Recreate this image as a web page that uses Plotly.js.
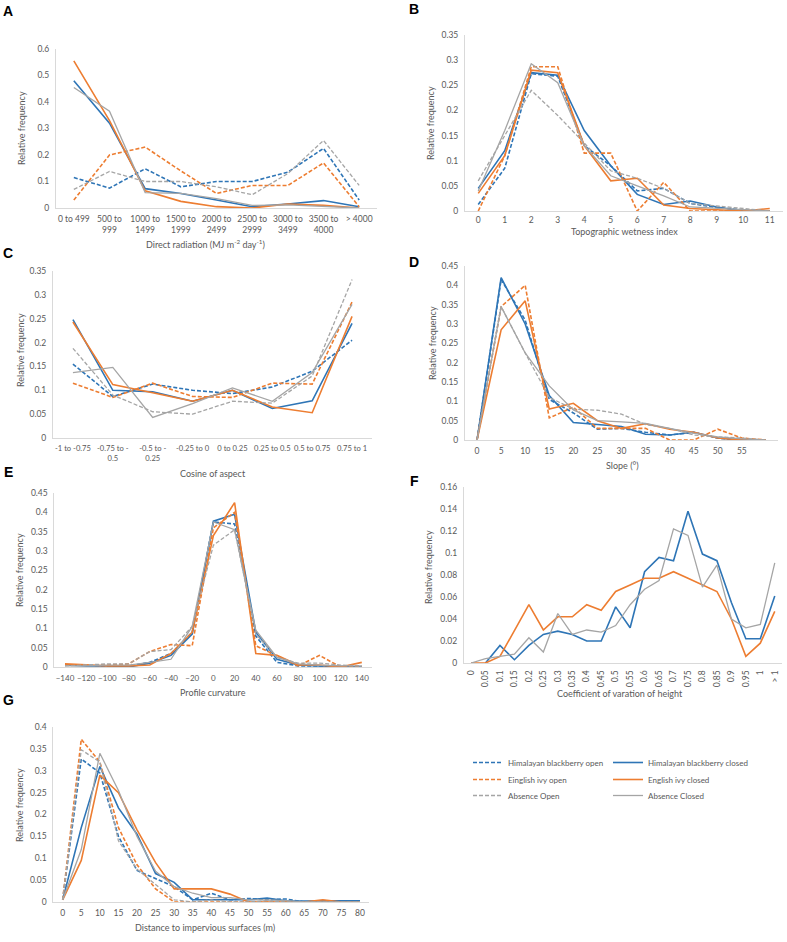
<!DOCTYPE html>
<html>
<head>
<meta charset="utf-8">
<script src="https://cdn.plot.ly/plotly-3.0.1.min.js"></script>
<style>html,body{margin:0;padding:0;background:#fff;}#chart{width:787px;height:942px;}</style>
</head>
<body>
<div id="chart"></div>
<script>
// ---------- Series names ----------
var seriesNames = ["Himalayan blackberry open", "Himalayan blackberry closed",
                   "Einglish ivy open", "English ivy closed",
                   "Absence Open", "Absence Closed"];

// ---------- A: Direct radiation ----------
var radCats = ["0 to 499", "500 to<br>999", "1000 to<br>1499", "1500 to<br>1999", "2000 to<br>2499",
               "2500 to<br>2999", "3000 to<br>3499", "3500 to<br>4000", "> 4000"];
var radHBopen    = [0.115, 0.075, 0.148, 0.080, 0.100, 0.100, 0.135, 0.225, 0.030];
var radHBclosed  = [0.480, 0.320, 0.073, 0.055, 0.030, 0.005, 0.015, 0.028, 0.005];
var radIvyOpen   = [0.030, 0.200, 0.230, 0.140, 0.055, 0.085, 0.085, 0.170, 0.005];
var radIvyClosed = [0.555, 0.330, 0.065, 0.025, 0.005, 0.000, 0.015, 0.010, 0.000];
var radAbsOpen   = [0.070, 0.138, 0.100, 0.100, 0.080, 0.050, 0.130, 0.255, 0.085];
var radAbsClosed = [0.455, 0.365, 0.058, 0.055, 0.035, 0.010, 0.012, 0.005, 0.000];

// ---------- B: Topographic wetness index ----------
var twiX = [0, 1, 2, 3, 4, 5, 6, 7, 8, 9, 10, 11];
var twiHBopen    = [0.013, 0.085, 0.273, 0.268, 0.130, 0.090, 0.040, 0.045, 0.015, 0.007, 0.002, 0.000];
var twiHBclosed  = [0.045, 0.120, 0.275, 0.270, 0.160, 0.090, 0.033, 0.013, 0.020, 0.008, 0.000, 0.000];
var twiIvyOpen   = [0.000, 0.110, 0.287, 0.287, 0.115, 0.115, 0.000, 0.057, 0.000, 0.000, 0.000, 0.000];
var twiIvyClosed = [0.035, 0.110, 0.280, 0.275, 0.130, 0.060, 0.065, 0.012, 0.005, 0.003, 0.000, 0.005];
var twiAbsOpen   = [0.060, 0.150, 0.240, 0.190, 0.135, 0.080, 0.065, 0.045, 0.015, 0.010, 0.005, 0.000];
var twiAbsClosed = [0.040, 0.160, 0.293, 0.255, 0.130, 0.070, 0.050, 0.030, 0.008, 0.005, 0.003, 0.000];

// ---------- C: Cosine of aspect ----------
var aspCats = ["-1 to -0.75", "-0.75 to -<br>0.5", "-0.5 to -<br>0.25", "-0.25 to 0",
               "0 to 0.25", "0.25 to 0.5", "0.5 to 0.75", "0.75 to 1"];
var aspHBopen    = [0.155, 0.087, 0.113, 0.100, 0.093, 0.107, 0.140, 0.205];
var aspHBclosed  = [0.248, 0.100, 0.097, 0.077, 0.100, 0.062, 0.078, 0.240];
var aspIvyOpen   = [0.115, 0.085, 0.115, 0.087, 0.085, 0.115, 0.113, 0.285];
var aspIvyClosed = [0.243, 0.112, 0.095, 0.077, 0.100, 0.065, 0.053, 0.255];
var aspAbsOpen   = [0.188, 0.090, 0.055, 0.050, 0.077, 0.073, 0.130, 0.332];
var aspAbsClosed = [0.137, 0.148, 0.043, 0.072, 0.105, 0.077, 0.137, 0.280];

// ---------- D: Slope ----------
var slopeX = [0, 5, 10, 15, 20, 25, 30, 35, 40, 45, 50, 55, 60];
var slopeTicks = [0, 5, 10, 15, 20, 25, 30, 35, 40, 45, 50, 55];
var slopeHBopen    = [0, 0.415, 0.310, 0.105, 0.070, 0.028, 0.030, 0.020, 0.013, 0.020, 0.005, 0.000, 0];
var slopeHBclosed  = [0, 0.420, 0.300, 0.115, 0.045, 0.040, 0.035, 0.015, 0.013, 0.020, 0.005, 0.000, 0];
var slopeIvyOpen   = [0, 0.345, 0.400, 0.057, 0.085, 0.030, 0.030, 0.030, 0.000, 0.000, 0.028, 0.005, 0];
var slopeIvyClosed = [0, 0.285, 0.360, 0.080, 0.095, 0.050, 0.030, 0.042, 0.028, 0.020, 0.005, 0.000, 0];
var slopeAbsOpen   = [0, 0.345, 0.225, 0.110, 0.080, 0.077, 0.067, 0.040, 0.030, 0.013, 0.008, 0.005, 0];
var slopeAbsClosed = [0, 0.345, 0.225, 0.140, 0.078, 0.050, 0.047, 0.043, 0.030, 0.018, 0.008, 0.003, 0];

// ---------- E: Profile curvature ----------
var curvX = [-140, -120, -100, -80, -60, -40, -20, 0, 20, 40, 60, 80, 100, 120, 140];
var curvHBopen    = [0.005, 0.005, 0.003, 0.003, 0.012, 0.035, 0.090, 0.375, 0.370, 0.080, 0.012, 0.003, 0.003, 0.000, 0.000];
var curvHBclosed  = [0.005, 0.003, 0.003, 0.000, 0.010, 0.030, 0.085, 0.377, 0.395, 0.090, 0.020, 0.005, 0.003, 0.002, 0.000];
var curvIvyOpen   = [0.005, 0.005, 0.005, 0.008, 0.040, 0.058, 0.055, 0.360, 0.400, 0.055, 0.030, 0.003, 0.030, 0.000, 0.000];
var curvIvyClosed = [0.008, 0.005, 0.003, 0.003, 0.005, 0.035, 0.090, 0.340, 0.425, 0.035, 0.030, 0.005, 0.005, 0.000, 0.012];
var curvAbsOpen   = [0.003, 0.005, 0.008, 0.008, 0.040, 0.045, 0.105, 0.315, 0.355, 0.085, 0.025, 0.010, 0.010, 0.005, 0.003];
var curvAbsClosed = [0.003, 0.003, 0.005, 0.005, 0.012, 0.020, 0.105, 0.375, 0.355, 0.095, 0.025, 0.008, 0.005, 0.003, 0.003];

// ---------- F: Coefficient of variation of height ----------
var cvCats = ["0", "0.05", "0.1", "0.15", "0.2", "0.25", "0.3", "0.35", "0.4", "0.45", "0.5",
              "0.55", "0.6", "0.65", "0.7", "0.75", "0.8", "0.85", "0.9", "0.95", "1", "> 1"];
var cvHBclosed  = [null, 0.000, 0.016, 0.003, 0.016, 0.026, 0.029, 0.026, 0.020, 0.020, 0.051,
                   0.032, 0.083, 0.096, 0.093, 0.138, 0.099, 0.093, 0.055, 0.022, 0.022, 0.061];
var cvIvyClosed = [0.000, 0.000, 0.006, 0.030, 0.053, 0.030, 0.042, 0.042, 0.053, 0.048, 0.065,
                   0.071, 0.077, 0.077, 0.083, 0.077, 0.071, 0.065, 0.040, 0.006, 0.018, 0.047];
var cvAbsClosed = [0.000, 0.004, 0.006, 0.008, 0.023, 0.010, 0.045, 0.026, 0.030, 0.028, 0.034,
                   0.053, 0.067, 0.075, 0.122, 0.116, 0.069, 0.089, 0.040, 0.032, 0.035, 0.091];

// ---------- G: Distance to impervious surfaces ----------
var distX = [0, 5, 10, 15, 20, 25, 30, 35, 40, 45, 50, 55, 60, 65, 70, 75, 80];
var distHBopen    = [0.005, 0.327, 0.295, 0.150, 0.072, 0.053, 0.035, 0.005, 0.020, 0.005, 0.008, 0.005, 0.007, 0.000, 0.000, 0.000, 0.000];
var distHBclosed  = [0.005, 0.170, 0.310, 0.215, 0.155, 0.065, 0.045, 0.005, 0.005, 0.005, 0.005, 0.009, 0.003, 0.002, 0.003, 0.003, 0.003];
var distIvyOpen   = [0.005, 0.372, 0.320, 0.170, 0.085, 0.030, 0.000, 0.000, 0.000, 0.000, 0.000, 0.000, 0.000, 0.000, 0.000, 0.000, 0.000];
var distIvyClosed = [0.005, 0.095, 0.290, 0.250, 0.165, 0.090, 0.030, 0.030, 0.030, 0.018, 0.000, 0.000, 0.000, 0.000, 0.005, 0.000, 0.000];
var distAbsOpen   = [0.005, 0.348, 0.320, 0.140, 0.075, 0.040, 0.005, 0.000, 0.005, 0.000, 0.000, 0.003, 0.000, 0.000, 0.000, 0.000, 0.000];
var distAbsClosed = [0.005, 0.120, 0.340, 0.255, 0.150, 0.070, 0.035, 0.020, 0.010, 0.010, 0.005, 0.005, 0.003, 0.000, 0.000, 0.000, 0.000];

// ---------- Styling ----------
var BLUE = '#2e75b6', ORANGE = '#ed7d31', GRAY = '#a5a5a5';
var colors = [BLUE, BLUE, ORANGE, ORANGE, GRAY, GRAY];
var dashes = ['4px,2px', 'solid', '4px,2px', 'solid', '4px,2px', 'solid'];
var widths = [1.6, 1.6, 1.6, 1.6, 1.3, 1.3];
var legendIds = ['legend', 'legend2', 'legend3', 'legend4', 'legend5', 'legend6'];
var FONT = 'Lato, "Open Sans", "Liberation Sans", sans-serif';
var TICKC = '#595959';

var traces = [];
function addPanel(n, x, ys, idx, showLegend) {
  var ax = n === 1 ? '' : String(n);
  ys.forEach(function (y, i) {
    var k = idx ? idx[i] : i;
    traces.push({
      type: 'scatter', mode: 'lines', x: x, y: y, name: seriesNames[k],
      xaxis: 'x' + ax, yaxis: 'y' + ax,
      line: {color: colors[k], dash: dashes[k], width: widths[k]},
      showlegend: !!showLegend, legend: legendIds[k], connectgaps: false,
      hoverinfo: 'x+y+name'
    });
  });
}
addPanel(1, radCats, [radHBopen, radHBclosed, radIvyOpen, radIvyClosed, radAbsOpen, radAbsClosed], null, true);
addPanel(2, twiX, [twiHBopen, twiHBclosed, twiIvyOpen, twiIvyClosed, twiAbsOpen, twiAbsClosed]);
addPanel(3, aspCats, [aspHBopen, aspHBclosed, aspIvyOpen, aspIvyClosed, aspAbsOpen, aspAbsClosed]);
addPanel(4, slopeX, [slopeHBopen, slopeHBclosed, slopeIvyOpen, slopeIvyClosed, slopeAbsOpen, slopeAbsClosed]);
addPanel(5, curvX, [curvHBopen, curvHBclosed, curvIvyOpen, curvIvyClosed, curvAbsOpen, curvAbsClosed]);
addPanel(6, cvCats, [cvHBclosed, cvIvyClosed, cvAbsClosed], [1, 3, 5]);
addPanel(7, distX, [distHBopen, distHBclosed, distIvyOpen, distIvyClosed, distAbsOpen, distAbsClosed]);

var W = 787, H = 942;
function px(v) { return v / W; }
function py(v) { return 1 - v / H; }

function xax(domL, domR, extra) {
  var o = {domain: [px(domL), px(domR)], showline: true, linecolor: '#d9d9d9', linewidth: 1,
           showgrid: false, zeroline: false, ticks: '', fixedrange: true, tickangle: 0,
           ticklabelstandoff: 3,
           tickfont: {family: FONT, size: 8.5, color: TICKC}};
  for (var k in extra) o[k] = extra[k];
  return o;
}
function yax(top, bottom, maxv, dt, extra) {
  var o = {domain: [py(bottom), py(top)], range: [0, maxv], dtick: dt, tick0: 0,
           showline: true, linecolor: '#d9d9d9', linewidth: 1, showgrid: false, zeroline: false,
           ticks: '', fixedrange: true, ticklabelstandoff: 4,
           tickfont: {family: FONT, size: 8.5, color: TICKC}};
  for (var k in extra) o[k] = extra[k];
  return o;
}

var layout = {
  width: W, height: H, margin: {l: 0, r: 0, t: 0, b: 0},
  paper_bgcolor: '#fff', plot_bgcolor: '#fff',
  font: {family: FONT, size: 9, color: TICKC},
  xaxis:  xax(56, 377, {type: 'category', range: [-0.5, 8.5], anchor: 'y'}),
  yaxis:  yax(49, 208, 0.6, 0.1, {anchor: 'x'}),
  xaxis2: xax(465, 783, {type: 'linear', range: [-0.5, 11.5], tickvals: twiX, anchor: 'y2',
                         ticklabelstandoff: 1}),
  yaxis2: yax(35, 211, 0.35, 0.05, {anchor: 'x2'}),
  xaxis3: xax(53, 372, {type: 'category', range: [-0.5, 7.5], anchor: 'y3',
                        tickfont: {family: FONT, size: 7.6, color: TICKC}}),
  yaxis3: yax(271, 438, 0.35, 0.05, {anchor: 'x3'}),
  xaxis4: xax(465, 778, {type: 'linear', range: [-2.5, 62.5], tickvals: slopeTicks, anchor: 'y4'}),
  yaxis4: yax(266, 440, 0.45, 0.05, {anchor: 'x4'}),
  xaxis5: xax(54.4, 372.4, {type: 'linear', range: [-150, 150], tickvals: curvX, anchor: 'y5',
                            tickfont: {family: FONT, size: 8, color: TICKC}}),
  yaxis5: yax(493, 667, 0.45, 0.05, {anchor: 'x5'}),
  xaxis6: xax(463.8, 782, {type: 'category', range: [-0.5, 21.5], tickangle: -90, anchor: 'y6'}),
  yaxis6: yax(487, 663, 0.16, 0.02, {anchor: 'x6'}),
  xaxis7: xax(53.4, 369.3, {type: 'linear', range: [-2.5, 82.5], tickvals: distX, anchor: 'y7'}),
  yaxis7: yax(727, 902, 0.4, 0.05, {anchor: 'x7'}),
  annotations: []
};

// six single-entry legends arranged in 2 columns x 3 rows
var legCols = [468, 608];
var legRows = [748, 765, 781];
for (var i = 0; i < 6; i++) {
  layout[legendIds[i]] = {
    orientation: 'h', x: px(legCols[i % 2]), y: py(legRows[Math.floor(i / 2)]),
    xanchor: 'left', yanchor: 'top', font: {family: FONT, size: 8, color: TICKC},
    bgcolor: 'rgba(0,0,0,0)', itemclick: false, itemdoubleclick: false
  };
}

function ann(text, x, y, opts) {
  var a = {text: text, x: px(x), y: py(y), xref: 'paper', yref: 'paper', showarrow: false,
           xanchor: 'center', yanchor: 'middle', font: {family: FONT, size: 9, color: TICKC}};
  for (var k in opts) a[k] = opts[k];
  layout.annotations.push(a);
}
// panel letters
var letterFont = {family: 'Liberation Sans, Arial, sans-serif', size: 14, color: '#000'};
var letters = [['A', 8, 11], ['B', 414, 9], ['C', 8, 253], ['D', 414, 262], ['E', 8, 472], ['F', 414, 481], ['G', 8, 700]];
letters.forEach(function (l) { ann('<b>' + l[0] + '</b>', l[1], l[2], {font: letterFont}); });

// axis titles
ann('Direct radiation (MJ m<sup>-2</sup> day<sup>-1</sup>)', 205, 244);
ann('Topographic wetness index', 624, 232);
ann('Cosine of aspect', 213, 473);
ann('Slope (°)', 622, 465);
ann('Profile curvature', 213, 692);
ann('Coefficient of varation of height', 620, 693);
ann('Distance to impervious surfaces (m)', 205, 927);
var yt = 'Relative frequency';
ann(yt, 22, 128, {textangle: -90});
ann(yt, 431, 123, {textangle: -90});
ann(yt, 21, 350, {textangle: -90});
ann(yt, 432, 343, {textangle: -90});
ann(yt, 19, 570, {textangle: -90});
ann(yt, 428, 567, {textangle: -90});
ann(yt, 19, 805, {textangle: -90});

Plotly.newPlot('chart', traces, layout, {staticPlot: true, displayModeBar: false});
</script>
</body>
</html>
